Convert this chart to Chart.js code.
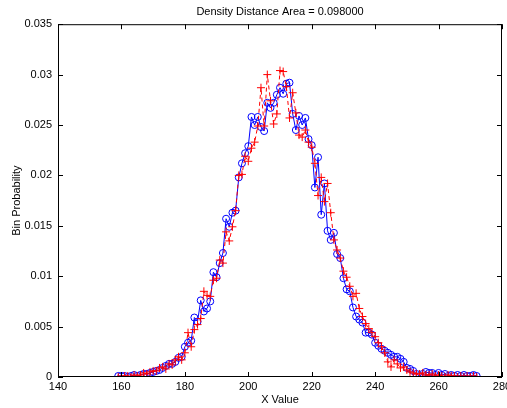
<!DOCTYPE html>
<html>
<head>
<meta charset="utf-8">
<script src="https://cdn.jsdelivr.net/npm/chart.js@4/dist/chart.umd.min.js"></script>
<style>
    body { margin: 0; background: #fff; }
    canvas { display: block; }
</style>
</head>
<body>
<canvas id="densityChart" width="507" height="408"></canvas>
<script>
// Bin centres
const xValues = [
    159, 160, 161, 162, 163, 164, 165, 166, 167, 168,
    169, 170, 171, 172, 173, 174, 175, 176, 177, 178,
    179, 180, 181, 182, 183, 184, 185, 186, 187, 188,
    189, 190, 191, 192, 193, 194, 195, 196, 197, 198,
    199, 200, 201, 202, 203, 204, 205, 206, 207, 208,
    209, 210, 211, 212, 213, 214, 215, 216, 217, 218,
    219, 220, 221, 222, 223, 224, 225, 226, 227, 228,
    229, 230, 231, 232, 233, 234, 235, 236, 237, 238,
    239, 240, 241, 242, 243, 244, 245, 246, 247, 248,
    249, 250, 251, 252, 253, 254, 255, 256, 257, 258,
    259, 260, 261, 262, 263, 264, 265, 266, 267, 268, 269, 270, 271, 272
];

// blue circles
const blueProb = [
    0.0001, 0.0001, 0.0001, 0.0000, 0.0001, 0.0002, 0.0001, 0.0002, 0.0003, 0.0003,
    0.0004, 0.0005, 0.0006, 0.0007, 0.0009, 0.0011, 0.0013, 0.0013, 0.0015, 0.0019,
    0.0020, 0.0030, 0.0034, 0.0036, 0.0059, 0.0055, 0.0076, 0.0065, 0.0068, 0.0075,
    0.0104, 0.0099, 0.0113, 0.0123, 0.0157, 0.0149, 0.0163, 0.0165, 0.0198, 0.0212,
    0.0222, 0.0229, 0.0258, 0.0250, 0.0258, 0.0248, 0.0244, 0.0272, 0.0267, 0.0272,
    0.0280, 0.0287, 0.0281, 0.0291, 0.0292, 0.0261, 0.0245, 0.0259, 0.0250, 0.0257,
    0.0236, 0.0230, 0.0188, 0.0218, 0.0161, 0.0192, 0.0145, 0.0136, 0.0143, 0.0122,
    0.0118, 0.0098, 0.0087, 0.0085, 0.0069, 0.0060, 0.0057, 0.0054, 0.0044, 0.0044,
    0.0042, 0.0034, 0.0031, 0.0028, 0.0026, 0.0024, 0.0022, 0.0020, 0.0020, 0.0018,
    0.0015, 0.0009, 0.0008, 0.0006, 0.0003, 0.0001, 0.0003, 0.0005, 0.0004, 0.0004,
    0.0002, 0.0004, 0.0002, 0.0003, 0.0001, 0.0002, 0.0001, 0.0002, 0.0001, 0.0002, 0.0001, 0.0001, 0.0002, 0.0001
];

// red pluses
const redProb = [
    0.0000, 0.0001, 0.0001, 0.0001, 0.0000, 0.0002, 0.0001, 0.0002, 0.0004, 0.0003,
    0.0005, 0.0006, 0.0006, 0.0009, 0.0010, 0.0008, 0.0013, 0.0012, 0.0017, 0.0020,
    0.0017, 0.0024, 0.0044, 0.0030, 0.0047, 0.0052, 0.0058, 0.0085, 0.0081, 0.0080,
    0.0096, 0.0098, 0.0116, 0.0113, 0.0144, 0.0135, 0.0149, 0.0165, 0.0200, 0.0201,
    0.0219, 0.0214, 0.0227, 0.0233, 0.0249, 0.0287, 0.0249, 0.0300, 0.0274, 0.0251,
    0.0261, 0.0304, 0.0303, 0.0288, 0.0257, 0.0282, 0.0262, 0.0240, 0.0238, 0.0245,
    0.0233, 0.0228, 0.0212, 0.0180, 0.0198, 0.0174, 0.0192, 0.0163, 0.0136, 0.0126,
    0.0118, 0.0105, 0.0099, 0.0090, 0.0080, 0.0083, 0.0068, 0.0060, 0.0053, 0.0048,
    0.0044, 0.0040, 0.0034, 0.0030, 0.0024, 0.0015, 0.0010, 0.0017, 0.0013, 0.0009,
    0.0010, 0.0007, 0.0005, 0.0004, 0.0003, 0.0003, 0.0004, 0.0002, 0.0002, 0.0003,
    0.0001, 0.0002, 0.0001, 0.0000, 0.0002, 0.0001, 0.0001, 0.0000, 0.0001, 0.0000, 0.0001, 0.0000, 0.0001, 0.0000
];

const xTicks = [140, 160, 180, 200, 220, 240, 260, 280];
const yTicks = [0, 0.005, 0.01, 0.015, 0.02, 0.025, 0.03, 0.035];

const toPoints = (ys) => xValues.map((x, i) => ({ x: x, y: ys[i] }));

const FONT = { family: 'Liberation Sans, Arial, sans-serif', size: 11 };

// MATLAB style box with inward ticks
const boxPlugin = {
    id: 'boxPlugin',
    afterDatasetsDraw(chart) {
        const { ctx, chartArea: a, scales } = chart;
        ctx.save();
        ctx.strokeStyle = '#000';
        ctx.lineWidth = 1;
        ctx.strokeRect(a.left + 0.5, a.top + 0.5, a.right - a.left - 1, a.bottom - a.top - 1);
        ctx.beginPath();
        const len = 5;
        xTicks.forEach(v => {
            const px = Math.round(scales.x.getPixelForValue(v)) + 0.5;
            ctx.moveTo(px, a.bottom);
            ctx.lineTo(px, a.bottom - len);
            ctx.moveTo(px, a.top);
            ctx.lineTo(px, a.top + len);
        });
        yTicks.forEach(v => {
            const py = Math.round(scales.y.getPixelForValue(v)) + 0.5;
            ctx.moveTo(a.left, py);
            ctx.lineTo(a.left + len, py);
            ctx.moveTo(a.right, py);
            ctx.lineTo(a.right - len, py);
        });
        ctx.stroke();
        ctx.restore();
    }
};

new Chart(document.getElementById('densityChart'), {
    type: 'line',
    data: {
        datasets: [
            {
                label: 'red',
                data: toPoints(redProb),
                borderColor: '#ff0000',
                backgroundColor: '#ff0000',
                borderWidth: 1,
                borderDash: [4, 3],
                pointStyle: 'cross',
                pointRadius: 4,
                pointBorderWidth: 1,
                tension: 0,
                fill: false
            },
            {
                label: 'blue',
                data: toPoints(blueProb),
                borderColor: '#0000ff',
                backgroundColor: 'rgba(0,0,0,0)',
                borderWidth: 1,
                pointStyle: 'circle',
                pointRadius: 3.5,
                pointBorderWidth: 1,
                tension: 0,
                fill: false
            }
        ]
    },
    options: {
        responsive: false,
        animation: false,
        layout: { padding: { left: 0, right: 5, top: 0, bottom: 0 } },
        plugins: {
            legend: { display: false },
            tooltip: { enabled: false },
            title: {
                display: true,
                text: 'Density Distance Area = 0.098000',
                fullSize: false,
                color: '#000',
                font: { ...FONT, weight: 'normal' },
                padding: { top: 5, bottom: 6 }
            }
        },
        scales: {
            x: {
                type: 'linear',
                min: 140,
                max: 280,
                afterBuildTicks: (scale) => { scale.ticks = xTicks.map(v => ({ value: v })); },
                afterFit: (scale) => { scale.height = 31; scale.paddingLeft = 0; scale.paddingRight = 0; },
                grid: { display: false, drawTicks: false },
                border: { display: false },
                ticks: { color: '#000', font: FONT, padding: 3, maxRotation: 0, autoSkip: false },
                title: { display: true, text: 'X Value', color: '#000', font: FONT, padding: { top: 0, bottom: 1 } }
            },
            y: {
                type: 'linear',
                min: 0,
                max: 0.035,
                afterBuildTicks: (scale) => { scale.ticks = yTicks.map(v => ({ value: v })); },
                afterFit: (scale) => { scale.width = 58; },
                grid: { display: false, drawTicks: false },
                border: { display: false },
                ticks: {
                    color: '#000',
                    font: FONT,
                    padding: 6,
                    callback: (v) => String(+v.toFixed(3))
                },
                title: { display: true, text: 'Bin Probability', color: '#000', font: FONT, padding: { top: 10, bottom: 0 } }
            }
        }
    },
    plugins: [boxPlugin]
});
</script>
</body>
</html>
